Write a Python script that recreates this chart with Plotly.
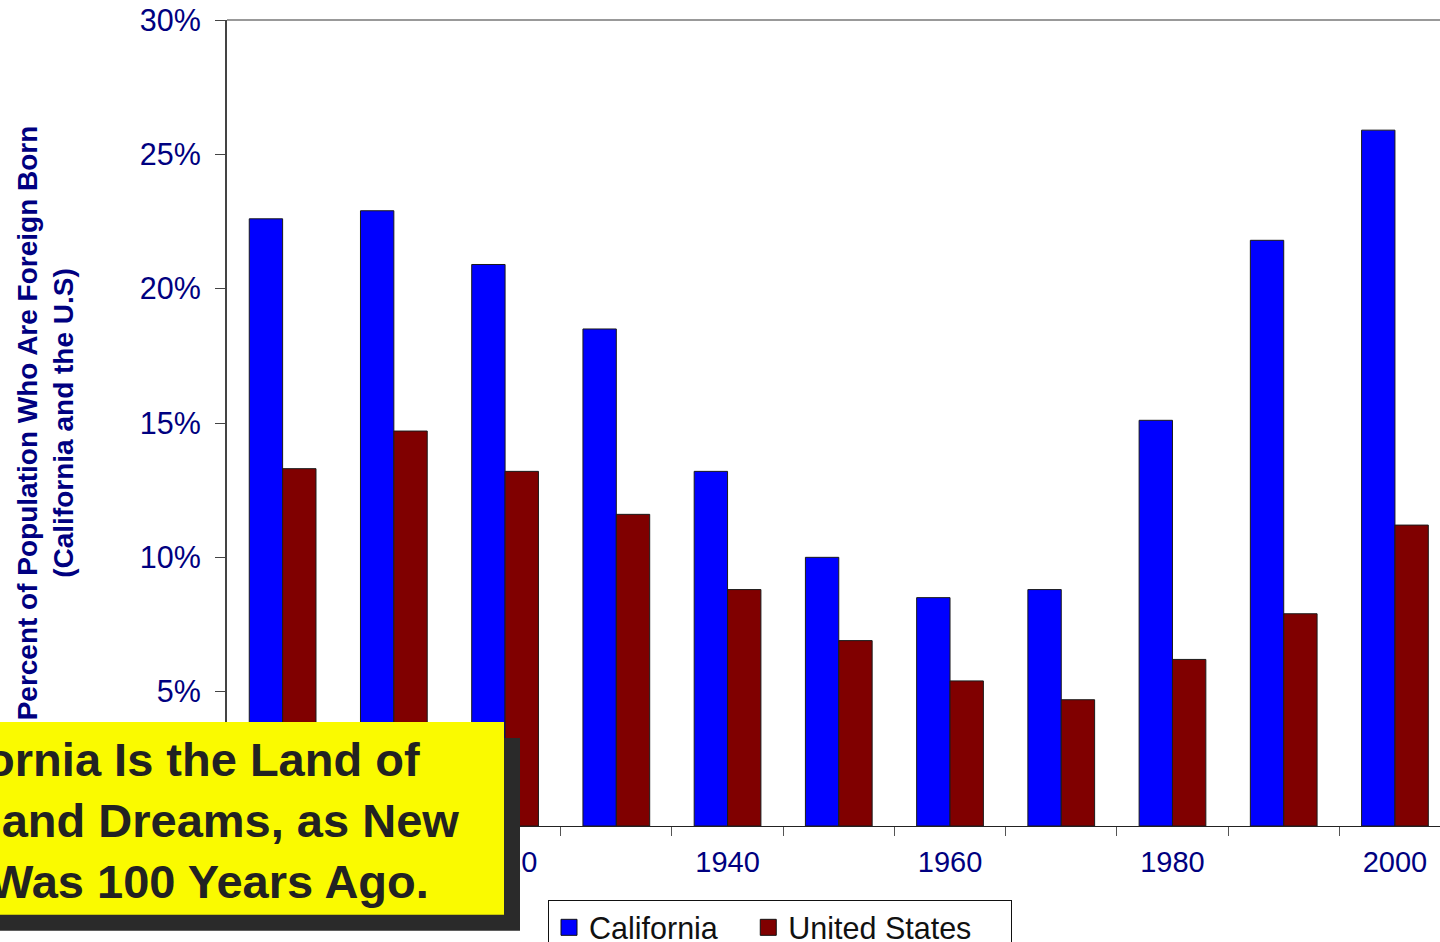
import plotly.graph_objects as go

years = ["1900", "1910", "1920", "1930", "1940", "1950", "1960", "1970", "1980", "1990", "2000"]
california = [22.6, 22.9, 20.9, 18.5, 13.2, 10.0, 8.5, 8.8, 15.1, 21.8, 25.9]
united_states = [13.3, 14.7, 13.2, 11.6, 8.8, 6.9, 5.4, 4.7, 6.2, 7.9, 11.2]
y_tick_vals = [0, 5, 10, 15, 20, 25, 30]
y_tick_text = ["0%", "5%", "10%", "15%", "20%", "25%", "30%"]
label_years = ["1900", "1920", "1940", "1960", "1980", "2000"]
series_names = ["California", "United States"]
series_colors = ["#0000FF", "#800000"]

W, H = 1440, 942
ML, MR, MT, MB = 227, 0, 20, 116
PW, PH = W - ML - MR, H - MT - MB

def px_x(p):
    return (p - ML) / PW

def px_y(p):
    return (H - MB - p) / PH

idx = list(range(len(years)))
label_idx = [years.index(y) for y in label_years]

FONT = "Arial, 'Liberation Sans', sans-serif"
NAVY = "#000080"
NBSP = "\u00a0"

fig = go.Figure()
for name, vals, col in zip(series_names, [california, united_states], series_colors):
    fig.add_trace(go.Bar(
        x=idx, y=vals, name=name, showlegend=False,
        marker=dict(color=col, line=dict(color="#1a1a1a", width=1)),
    ))
# legend entries (larger square swatches)
for name, col, pad in zip(series_names, series_colors, [3, 4]):
    fig.add_trace(go.Scatter(
        x=[None], y=[None], mode="markers", name=name + NBSP * pad,
        marker=dict(symbol="square", size=16, color=col, line=dict(color="#111111", width=1)),
        hoverinfo="skip",
    ))

fig.update_layout(
    width=W, height=H,
    margin=dict(l=ML, r=MR, t=MT, b=MB, pad=0, autoexpand=False),
    paper_bgcolor="white", plot_bgcolor="white",
    barmode="group", bargap=0.4, bargroupgap=0,
    font=dict(family=FONT, color=NAVY),
    showlegend=True,
    legend=dict(
        orientation="h", x=px_x(548), xanchor="left", y=px_y(900), yanchor="top",
        bgcolor="white", bordercolor="#111111", borderwidth=1,
        font=dict(family=FONT, size=30.5, color="#111111"),
        itemwidth=30, tracegroupgap=0, itemsizing="trace",
    ),
    xaxis=dict(
        range=[-0.5, 10.405], showgrid=False, zeroline=False,
        tickmode="array", tickvals=label_idx, ticktext=label_years,
        ticks="", tickfont=dict(size=29, color=NAVY),
        showline=True, linecolor="#222222", linewidth=1,
        ticklabelstandoff=10,
        minor=dict(tick0=0.5, dtick=1, ticks="outside", ticklen=9,
                   tickcolor="#555555", tickwidth=1, showgrid=False),
    ),
    yaxis=dict(
        range=[0, 30], showgrid=False, zeroline=False,
        tickmode="array", tickvals=y_tick_vals, ticktext=y_tick_text,
        ticks="outside", ticklen=10, tickcolor="#444444", tickwidth=1,
        tickfont=dict(size=30.5, color=NAVY),
        showline=True, linecolor="#444444", linewidth=2,
        ticklabelstandoff=8,
        title=dict(
            text="Percent of Population Who Are Foreign Born<br>(California and the U.S)",
            font=dict(size=28, color=NAVY, weight="bold"),
            standoff=58,
        ),
    ),
    shapes=[
        dict(type="line", xref="paper", yref="paper", x0=0, x1=1, y0=1, y1=1,
             line=dict(color="#999999", width=2), layer="above"),
        dict(type="rect", xref="paper", yref="paper",
             x0=-0.3, x1=px_x(520), y0=px_y(930.7), y1=px_y(738),
             fillcolor="#2A2A2A", line=dict(width=0), layer="above"),
        dict(type="rect", xref="paper", yref="paper",
             x0=-0.3, x1=px_x(504), y0=px_y(914.7), y1=px_y(722),
             fillcolor="#FAFA00", line=dict(width=0), layer="above"),
    ],
    annotations=[
        dict(
            text="California Is the Land of<br>Hopes and Dreams, as New<br>York Was 100 Years Ago.",
            xref="paper", yref="paper", x=px_x(152), y=px_y(820),
            xanchor="center", yanchor="middle", align="center", showarrow=False,
            font=dict(family=FONT, size=47, color="#222222", weight="bold"),
        )
    ],
)

fig.write_html("out.html", config={"displayModeBar": False},
               post_script="document.body.style.margin='0';")
